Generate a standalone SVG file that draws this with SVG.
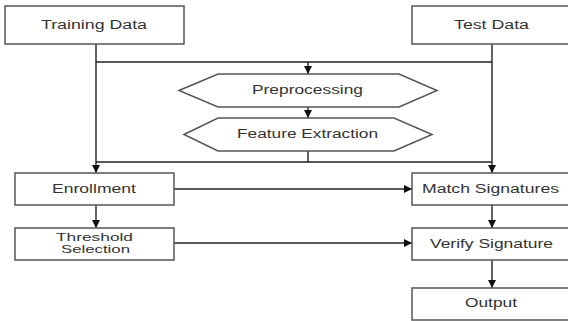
<svg xmlns="http://www.w3.org/2000/svg" width="568" height="321" viewBox="0 0 568 321">
  <defs>
    <marker id="arrow" viewBox="0 0 10 10" refX="10" refY="5" markerWidth="8" markerHeight="8" markerUnits="userSpaceOnUse" orient="auto">
      <path d="M0,0 L10,5 L0,10 z" fill="#111"/>
    </marker>
    <style>
      .box { fill: #fff; stroke: #555; stroke-width: 1.5; }
      .lbl { font-family: "Liberation Sans", Arial, sans-serif; font-size: 12px; fill: #333; text-anchor: middle; }
      .lbl-sm { font-size: 11px; }
      .wire { fill: none; stroke: #222; stroke-width: 1.4; }
      .wire-a { fill: none; stroke: #222; stroke-width: 1.4; marker-end: url(#arrow); }
    </style>
  </defs>
  <rect width="568" height="321" fill="#fff"/>

  <g id="connectors">
    <!-- data sources feeding the shared bus -->
    <path class="wire" d="M96,44 V62 H492"/>
    <path class="wire" d="M492,44 V62"/>
    <path class="wire-a" d="M308,62 V74"/>
    <path class="wire-a" d="M308,107 V118"/>
    <!-- feature bus down to both branches -->
    <path class="wire" d="M308,151 V162"/>
    <path class="wire" d="M96,162 H492"/>
    <path class="wire-a" d="M96,62 V173"/>
    <path class="wire-a" d="M492,62 V173"/>
    <!-- enrollment side -->
    <path class="wire-a" d="M96,205 V228"/>
    <path class="wire-a" d="M174,189 H412"/>
    <path class="wire-a" d="M174,243 H412"/>
    <!-- verification side -->
    <path class="wire-a" d="M492,205 V228"/>
    <path class="wire-a" d="M492,260 V288"/>
  </g>

  <g id="training-data">
    <rect class="box" x="5" y="6" width="179" height="38"/>
    <text class="lbl" x="94" y="28.5" textLength="106" lengthAdjust="spacingAndGlyphs">Training Data</text>
  </g>
  <g id="test-data">
    <rect class="box" x="412" y="6" width="160" height="38"/>
    <text class="lbl" x="491.5" y="28.5" textLength="75" lengthAdjust="spacingAndGlyphs">Test Data</text>
  </g>
  <g id="preprocessing">
    <polygon class="box" points="179,90.5 218,74 399,74 437,90.5 399,107 218,107"/>
    <text class="lbl" x="307.5" y="94" textLength="111" lengthAdjust="spacingAndGlyphs">Preprocessing</text>
  </g>
  <g id="feature-extraction">
    <polygon class="box" points="184,134.5 218,118 394,118 432,134.5 394,151 218,151"/>
    <text class="lbl" x="307.5" y="137.5" textLength="141" lengthAdjust="spacingAndGlyphs">Feature Extraction</text>
  </g>
  <g id="enrollment">
    <rect class="box" x="15" y="173" width="159" height="32"/>
    <text class="lbl" x="94" y="192.5" textLength="84" lengthAdjust="spacingAndGlyphs">Enrollment</text>
  </g>
  <g id="threshold-selection">
    <rect class="box" x="15" y="228" width="159" height="32"/>
    <text class="lbl lbl-sm" x="94.5" y="240.5" textLength="77" lengthAdjust="spacingAndGlyphs">Threshold</text>
    <text class="lbl lbl-sm" x="95.5" y="252.5" textLength="69" lengthAdjust="spacingAndGlyphs">Selection</text>
  </g>
  <g id="match-signatures">
    <rect class="box" x="412" y="173" width="160" height="32"/>
    <text class="lbl" x="490.5" y="192.5" textLength="137" lengthAdjust="spacingAndGlyphs">Match Signatures</text>
  </g>
  <g id="verify-signature">
    <rect class="box" x="412" y="228" width="160" height="32"/>
    <text class="lbl" x="491.5" y="247.5" textLength="123" lengthAdjust="spacingAndGlyphs">Verify Signature</text>
  </g>
  <g id="output">
    <rect class="box" x="412" y="288" width="160" height="32"/>
    <text class="lbl" x="491" y="306.5" textLength="52" lengthAdjust="spacingAndGlyphs">Output</text>
  </g>
</svg>
